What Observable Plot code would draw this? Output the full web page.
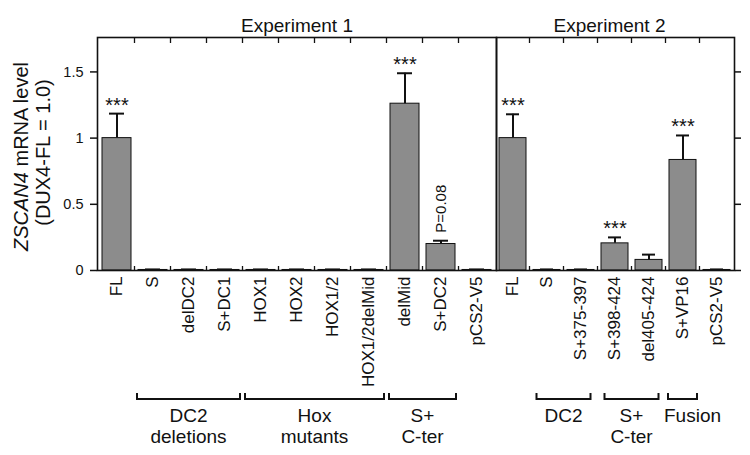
<!DOCTYPE html>
<html><head><meta charset="utf-8">
<script src="https://cdn.jsdelivr.net/npm/d3@7"></script>
<script src="https://cdn.jsdelivr.net/npm/@observablehq/plot@0.6"></script>
<style>
body{margin:0;background:#fff;}
#wrap{display:flex;width:750px;height:455px;}
#wrap svg{flex:0 0 auto;overflow:visible;max-width:none;}
</style></head><body><div id="wrap"></div>
<script>
// ---- Experiment 1 data ----
const exp1Labels = ["FL","S","delDC2","S+DC1","HOX1","HOX2","HOX1/2","HOX1/2delMid","delMid","S+DC2","pCS2-V5"];
const exp1Values = [1.0, 0.004, 0.004, 0.004, 0.004, 0.004, 0.004, 0.004, 1.26, 0.20, 0.004];
const exp1Errors = [0.185, 0.004, 0.004, 0.004, 0.004, 0.004, 0.004, 0.004, 0.23, 0.025, 0.004];
const exp1Marks  = ["***","","","","","","","","***","P=0.08",""];
const exp1GroupLabels = ["DC2\ndeletions","Hox\nmutants","S+\nC-ter"];
const exp1GroupFrom = ["S","HOX1","delMid"];
const exp1GroupTo   = ["S+DC1","HOX1/2delMid","S+DC2"];

// ---- Experiment 2 data ----
const exp2Labels = ["FL","S","S+375-397","S+398-424","del405-424","S+VP16","pCS2-V5"];
const exp2Values = [1.0, 0.004, 0.004, 0.205, 0.08, 0.835, 0.004];
const exp2Errors = [0.18, 0.004, 0.004, 0.045, 0.04, 0.185, 0.004];
const exp2Marks  = ["***","","","***","","***",""];
const exp2GroupLabels = ["DC2","S+\nC-ter","Fusion"];
const exp2GroupFrom = ["S","S+398-424","S+VP16"];
const exp2GroupTo   = ["S+375-397","del405-424","S+VP16"];

const yTicks = [0, 0.5, 1, 1.5];
const FONT = "'Liberation Sans', Arial, Helvetica, sans-serif";
const INK = "#111";

function bracketMark(labels, from, to, insets, labelDx) {
  return (index, scales, values, dims) => {
    const x = scales.x;
    const bw = x.bandwidth(), half = (x.step() - bw) / 2;
    const yLine = dims.height - dims.marginBottom + 129;
    const g = d3.create("svg:g");
    labels.forEach((lab, i) => {
      const x1 = x(from[i]) - half + insets[i];
      const x2 = x(to[i]) + bw + half - insets[i];
      g.append("path")
        .attr("d", `M${x1},${yLine - 6}V${yLine}H${x2}V${yLine - 6}`)
        .attr("fill", "none").attr("stroke", INK).attr("stroke-width", 2);
      const cx = (x1 + x2) / 2 + labelDx[i];
      const t = g.append("text").attr("x", cx).attr("y", yLine + 23)
        .attr("text-anchor", "middle").attr("font-size", 19).attr("fill", INK);
      lab.split("\n").forEach((line, j) =>
        t.append("tspan").attr("x", cx).attr("dy", j ? "1.1em" : 0).text(line));
    });
    return g.node();
  };
}

function boundaryTicks() {
  return (index, scales, values, dims) => {
    const x = scales.x;
    const half = (x.step() - x.bandwidth()) / 2;
    const top = dims.marginTop, bot = dims.height - dims.marginBottom;
    const g = d3.create("svg:g").attr("stroke", INK).attr("stroke-width", 1.3);
    x.domain().slice(1).forEach(c => {
      const xx = x(c) - half;
      g.append("line").attr("x1", xx).attr("x2", xx).attr("y1", top).attr("y2", top + 6);
      g.append("line").attr("x1", xx).attr("x2", xx).attr("y1", bot).attr("y2", bot - 4);
    });
    return g.node();
  };
}

function yLabel() {
  return (index, scales, values, dims) => {
    const cy = (dims.marginTop + dims.height - dims.marginBottom) / 2 + 3;
    const g = d3.create("svg:g").attr("fill", INK).attr("font-size", 20).attr("text-anchor", "middle");
    const t1 = g.append("text").attr("transform", `translate(${dims.marginLeft - 76},${cy}) rotate(-90)`).attr("dy", "0.35em");
    t1.append("tspan").attr("font-style", "italic").text("ZSCAN4");
    t1.append("tspan").text(" mRNA level");
    g.append("text").attr("transform", `translate(${dims.marginLeft - 54},${cy - 4}) rotate(-90)`).attr("dy", "0.35em")
      .text("(DUX4-FL = 1.0)");
    return g.node();
  };
}

function panel(cfg) {
  const rows = cfg.labels.map((c, i) => ({c, v: cfg.values[i], e: cfg.values[i] + cfg.errors[i], s: cfg.marks[i]}));
  const marks = [
    Plot.barY(rows, {x: "c", y: "v", fill: "#8c8c8c", stroke: INK, strokeWidth: 1}),
    Plot.ruleX(rows, {x: "c", y1: "v", y2: "e", stroke: INK, strokeWidth: 2}),
    Plot.tickY(rows, {x: "c", y: "e", stroke: INK, strokeWidth: 2, insetLeft: 7, insetRight: 7}),
    Plot.text(rows.filter(d => d.s === "***"), {x: "c", y: "e", text: "s", fontSize: 20, lineAnchor: "bottom", dy: -2, fill: INK}),
    Plot.text(rows.filter(d => d.s && d.s !== "***"), {x: "c", y: "e", text: "s", fontSize: 15, rotate: -90, textAnchor: "start", dy: -8, fill: INK}),
    Plot.frame({stroke: INK, strokeWidth: 1.6}),
    boundaryTicks(),
    Plot.axisX({tickRotate: -90, tickSize: 0, tickPadding: 6, fontSize: 17, label: null, fill: INK}),
    Plot.text([cfg.title], {text: d => d, frameAnchor: "top", lineAnchor: "bottom", dy: -6, dx: cfg.titleDx, fontSize: 19, fill: INK}),
    bracketMark(cfg.groupLabels, cfg.groupFrom, cfg.groupTo, cfg.insets, cfg.labelDx)
  ];
  if (cfg.left) {
    marks.push(Plot.axisY({ticks: yTicks, tickFormat: d => String(d), tickSize: 7, tickPadding: 7, fontSize: 14.5, label: null, stroke: INK, strokeWidth: 1.5, fill: INK}));
    marks.push(yLabel());
  } else {
    marks.push(Plot.axisY({anchor: "right", ticks: yTicks, tickFormat: () => "", tickSize: 6, label: null, stroke: INK, strokeWidth: 1.5}));
  }
  return Plot.plot({
    width: cfg.width, height: 455,
    marginLeft: cfg.marginLeft, marginRight: cfg.marginRight, marginTop: 37, marginBottom: 185,
    style: {fontFamily: FONT, overflow: "visible", background: "transparent", color: INK},
    x: {type: "band", domain: cfg.labels, paddingInner: 0.2, paddingOuter: 0.1},
    y: {domain: [0, 1.76]},
    marks
  });
}

const wrap = document.getElementById("wrap");
wrap.append(panel({
  labels: exp1Labels, values: exp1Values, errors: exp1Errors, marks: exp1Marks,
  groupLabels: exp1GroupLabels, groupFrom: exp1GroupFrom, groupTo: exp1GroupTo,
  insets: [2.5, 2.5, 2.5], labelDx: [0, 0, 0],
  title: "Experiment 1", titleDx: 0,
  width: 496, marginLeft: 97, marginRight: 0, left: true
}));
wrap.append(panel({
  labels: exp2Labels, values: exp2Values, errors: exp2Errors, marks: exp2Marks,
  groupLabels: exp2GroupLabels, groupFrom: exp2GroupFrom, groupTo: exp2GroupTo,
  insets: [7, 7, 2.5], labelDx: [0, 0, 10],
  title: "Experiment 2", titleDx: -6,
  width: 254, marginLeft: 0, marginRight: 16, left: false
}));
</script></body></html>
